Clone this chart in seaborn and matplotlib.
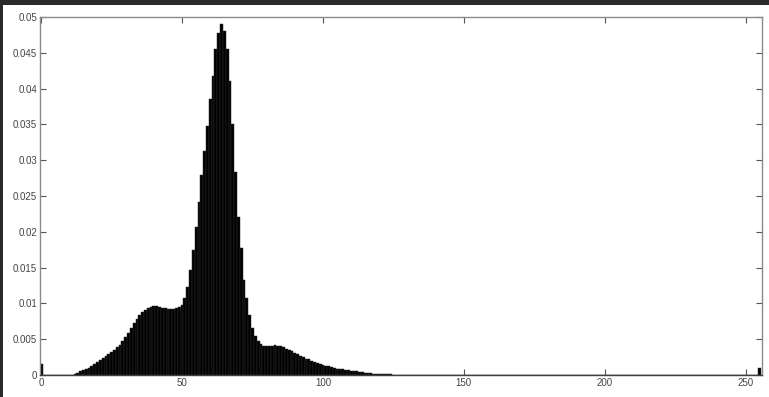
import numpy as np
import matplotlib
matplotlib.use("Agg")
import matplotlib.pyplot as plt
from matplotlib.patches import Rectangle
import seaborn as sns

# Normalised grey-level histogram (256 bins, uint8 image)
low_levels = [
    0.0015, 0, 0, 0, 0, 0, 0, 0, 0, 0, 0,
    0.00005, 0.0001, 0.0003, 0.0005, 0.0007, 0.0008, 0.0010, 0.0013, 0.0015, 0.0018,
    0.0021, 0.0024, 0.0026, 0.0029, 0.0032, 0.0035, 0.0039, 0.0042, 0.0047, 0.0053,
    0.0059, 0.0066, 0.0072, 0.0078, 0.0084, 0.0088, 0.0091, 0.0093, 0.0095, 0.0096,
    0.0096, 0.0095, 0.0094, 0.0093, 0.0092, 0.0092, 0.0092, 0.0093, 0.0095, 0.0098,
]
mid_levels = [
    0.0107, 0.0123, 0.0146, 0.0174, 0.0207, 0.0242, 0.0279, 0.0313, 0.0348, 0.0385,
    0.0417, 0.0455, 0.0477, 0.0490, 0.0481, 0.0455, 0.0410, 0.0351, 0.0284, 0.0221,
    0.0178, 0.0133, 0.0108, 0.0084, 0.0066, 0.0054, 0.0047, 0.0043, 0.0041, 0.0040,
    0.0041, 0.0041, 0.0042, 0.0041, 0.0040, 0.0039, 0.0037, 0.0035, 0.0033, 0.0031,
    0.0029, 0.0027, 0.0025, 0.0023, 0.0022, 0.0020, 0.0018, 0.0017, 0.0015, 0.0014,
]
tail_levels = [
    0.0013, 0.0012, 0.0011, 0.0010, 0.0009, 0.0009, 0.0008, 0.0007, 0.0007, 0.0006,
    0.0005, 0.0005, 0.0004, 0.0004, 0.0003, 0.0003, 0.0003, 0.0002, 0.0002, 0.0002,
    0.0001, 0.0001, 0.0001, 0.0001, 0.00005, 0.00005,
]
empty_levels = [0.0] * 128          # grey levels 127..254 are unused
top_level = [0.0010]                # saturated pixels at 255

frequency = low_levels + mid_levels + tail_levels + empty_levels + top_level
grey_level = list(range(len(frequency)))

x_ticks = [0, 50, 100, 150, 200, 250]
y_ticks = [0, 0.005, 0.01, 0.015, 0.02, 0.025, 0.03, 0.035, 0.04, 0.045, 0.05]
y_tick_labels = ["0", "0.005", "0.01", "0.015", "0.02", "0.025", "0.03",
                 "0.035", "0.04", "0.045", "0.05"]

sns.set_theme(style="white")
plt.rcParams["font.family"] = ["Liberation Sans", "DejaVu Sans"]

W, H = 769, 397
fig = plt.figure(figsize=(W / 100, H / 100), dpi=100, facecolor="white")

# dark frame along the top and left edges
for x0, y0, w, h in [(0, H - 5, W, 5), (0, 0, 3, H)]:
    fig.patches.append(Rectangle((x0, y0), w, h, transform=None,
                                 facecolor="#2a2a2a", edgecolor="none", zorder=-1))

ax = fig.add_axes([40 / W, (H - 375) / H, (762 - 40) / W, 358 / H])
ax.set_facecolor("white")

sns.histplot(x=grey_level, weights=frequency, discrete=True, shrink=1.0,
             color="black", alpha=1.0, edgecolor="#2e2e2e", linewidth=0.35, ax=ax)

ax.set_xlim(-0.4, 255.8)
ax.set_ylim(0, 0.05)
ax.set_xticks(x_ticks)
ax.set_xticklabels([str(t) for t in x_ticks])
ax.set_yticks(y_ticks)
ax.set_yticklabels(y_tick_labels)
ax.set_xlabel("")
ax.set_ylabel("")

for side in ["left", "right", "top", "bottom"]:
    ax.spines[side].set_visible(True)
    ax.spines[side].set_color("#8a8a8a")
    ax.spines[side].set_linewidth(1.0)
ax.spines["bottom"].set_color("#404040")

ax.tick_params(direction="in", length=4, width=0.8, color="#555555",
               labelsize=7, labelcolor="#444444", top=True, right=True,
               bottom=True, left=True, pad=2)

fig.savefig("out.png", dpi=100, facecolor=fig.get_facecolor())
